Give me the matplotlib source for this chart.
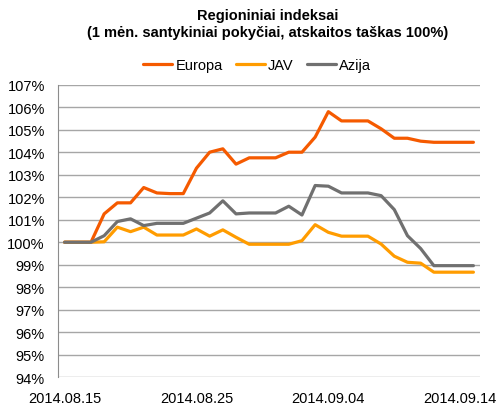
import matplotlib
matplotlib.use("Agg")
import matplotlib.pyplot as plt
import matplotlib.dates as mdates
import numpy as np
import pandas as pd

plt.rcParams['font.family'] = ['Liberation Sans', 'DejaVu Sans']

# daily values, 2014.08.15 - 2014.09.15 (%)
dates = pd.date_range("2014-08-15", "2014-09-15", freq="D")
europa = [100.0, 100.0, 100.0, 101.26, 101.75, 101.75, 102.43, 102.19, 102.16, 102.16,
          103.29, 104.0, 104.15, 103.47, 103.75, 103.75, 103.75, 104.0, 104.0, 104.67,
          105.8, 105.39, 105.39, 105.39, 105.04, 104.62, 104.62, 104.49, 104.44, 104.44,
          104.44, 104.44]
jav = [100.0, 100.0, 100.0, 100.02, 100.67, 100.47, 100.67, 100.32, 100.32, 100.32,
       100.59, 100.27, 100.55, 100.22, 99.91, 99.91, 99.91, 99.91, 100.07, 100.78,
       100.44, 100.27, 100.27, 100.27, 99.92, 99.38, 99.11, 99.07, 98.67, 98.67,
       98.67, 98.67]
azija = [100.0, 100.0, 100.0, 100.29, 100.92, 101.04, 100.74, 100.84, 100.84, 100.84,
         101.07, 101.3, 101.84, 101.26, 101.3, 101.3, 101.3, 101.6, 101.21, 102.52,
         102.49, 102.19, 102.19, 102.19, 102.07, 101.45, 100.29, 99.72, 98.96, 98.96,
         98.96, 98.96]
series = [("Europa", europa, "#F55A00"), ("JAV", jav, "#FF9C00"), ("Azija", azija, "#707070")]
tick_dates = ["2014-08-15", "2014-08-25", "2014-09-04", "2014-09-14"]
y_ticks = list(range(94, 108))

fig = plt.figure(figsize=(4.97, 4.06), dpi=100)
ax = fig.add_axes([0.1167, 0.0682, 0.8491, 0.7208])

for name, vals, col in series:
    ax.plot(dates, vals, color=col, lw=2.3, label=name, solid_capstyle="round",
            solid_joinstyle="round", zorder=3)

ax.set_ylim(94, 107)
ax.set_yticks(y_ticks)
ax.set_yticklabels(["%d%%" % v for v in y_ticks])
ax.set_xlim(dates[0] - pd.Timedelta(hours=12), dates[-1] + pd.Timedelta(hours=12))
ax.set_xticks(pd.to_datetime(tick_dates))
ax.xaxis.set_major_formatter(mdates.DateFormatter("%Y.%m.%d"))

ax.grid(axis="y", color="#A6A6A6", lw=1.0, zorder=0)
for s in ["top", "right", "bottom"]:
    ax.spines[s].set_visible(False)
ax.spines["left"].set_color("#8C8C8C")
ax.tick_params(axis="both", length=0, labelsize=10.5, colors="black")
ax.tick_params(axis="y", pad=9.5)
ax.tick_params(axis="x", pad=10)

fig.text(0.538, 0.939, "Regioniniai indeksai\n(1 mėn. santykiniai pokyčiai, atskaitos taškas 100%)",
         ha="center", va="center", fontsize=10.5, fontweight="bold", linespacing=1.3)

fig.legend(loc="center", bbox_to_anchor=(0.517, 0.838), ncol=3, frameon=False,
           fontsize=10.5, handlelength=2.0, handletextpad=0.2, columnspacing=0.9)

fig.savefig("out.png", dpi=100)
